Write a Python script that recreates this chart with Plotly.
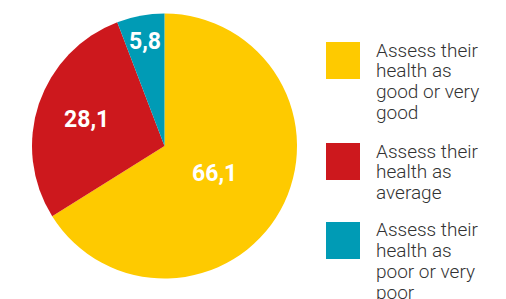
import math
import plotly.graph_objects as go

categories = ["Assess their health as good or very good",
              "Assess their health as average",
              "Assess their health as poor or very poor"]
legend_lines = [["Assess their", "health as", "good or very", "good"],
                ["Assess their", "health as", "average"],
                ["Assess their", "health as", "poor or very", "poor"]]
values = [66.1, 28.1, 5.8]
colors = ["#FECA00", "#CD181D", "#009BB5"]

W, H = 506, 299
OFF = 8  # page body margin offset
text_labels = [f"{v:.1f}".replace(".", ",") for v in values]

# pie geometry in figure pixels
cx, cy, R = 164.5 - OFF, 146 - OFF, 132.5

fig = go.Figure(go.Pie(
    labels=categories, values=values,
    textinfo="none",
    sort=False, direction="clockwise", rotation=0,
    marker=dict(colors=colors, line=dict(width=0)),
    domain=dict(x=[(cx - R) / W, (cx + R) / W], y=[1 - (cy + R) / H, 1 - (cy - R) / H]),
    showlegend=False, hoverinfo="label+value",
))

annotations, shapes = [], []
# value labels placed on each slice's bisector
label_radius = [0.43, 0.62, 0.80]
total = sum(values)
cum = 0.0
for v, t, rf in zip(values, text_labels, label_radius):
    mid = (cum + v / 2) / total * 2 * math.pi
    cum += v
    x = cx + rf * R * math.sin(mid)
    y = cy - rf * R * math.cos(mid)
    annotations.append(dict(xref="paper", yref="paper", x=x / W, y=1 - y / H,
                            xanchor="center", yanchor="middle", text=t, showarrow=False,
                            font=dict(family="Roboto", size=23, color="white", weight="bold")))

square_tops = [42, 143, 222]
line_h = 20.9
for i, (lines, col) in enumerate(zip(legend_lines, colors)):
    t = square_tops[i] - OFF
    shapes.append(dict(type="rect", xref="paper", yref="paper",
                       x0=(326 - OFF) / W, x1=(360 - OFF) / W,
                       y0=1 - (t + 37) / H, y1=1 - t / H,
                       fillcolor=col, line=dict(width=0)))
    for j, ln in enumerate(lines):
        ly = t + 8 + j * line_h
        annotations.append(dict(xref="paper", yref="paper", x=(374 - OFF) / W, y=1 - ly / H,
                                xanchor="left", yanchor="middle", text=ln, showarrow=False,
                                font=dict(family="Roboto", size=19, color="#333333", weight=300)))

fig.update_layout(width=W, height=H, margin=dict(l=0, r=0, t=0, b=0),
                  paper_bgcolor="white", plot_bgcolor="white",
                  shapes=shapes, annotations=annotations)
fig.write_html("out.html")
